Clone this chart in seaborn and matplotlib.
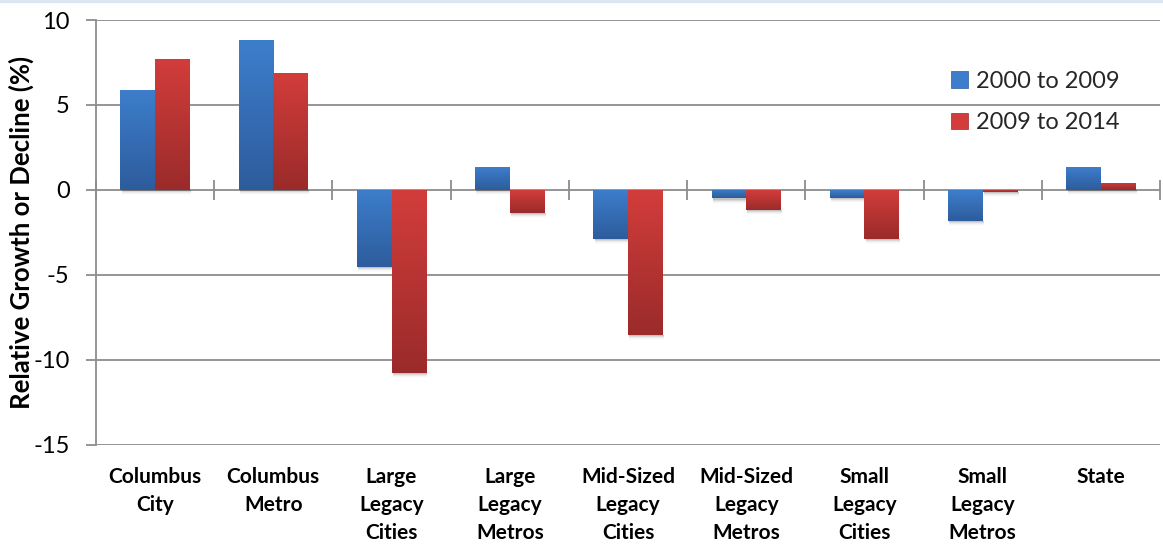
import numpy as np
import pandas as pd
import matplotlib
matplotlib.use("Agg")
import matplotlib.pyplot as plt
import seaborn as sns
from matplotlib.colors import LinearSegmentedColormap
from matplotlib.patches import Rectangle, Patch

# Data
categories = [
    "Columbus\nCity", "Columbus\nMetro", "Large\nLegacy\nCities", "Large\nLegacy\nMetros",
    "Mid-Sized\nLegacy\nCities", "Mid-Sized\nLegacy\nMetros", "Small\nLegacy\nCities",
    "Small\nLegacy\nMetros", "State",
]
periods = ["2000 to 2009", "2009 to 2014"]
growth_2000_2009 = [5.9, 8.8, -4.55, 1.35, -2.9, -0.5, -0.45, -1.8, 1.35]
growth_2009_2014 = [7.7, 6.9, -10.75, -1.33, -8.55, -1.15, -2.9, -0.12, 0.42]
y_ticks = [10, 5, 0, -5, -10, -15]

df = pd.DataFrame({
    "category": categories * 2,
    "period": [periods[0]] * len(categories) + [periods[1]] * len(categories),
    "value": growth_2000_2009 + growth_2009_2014,
})

sns.set_theme(style="white")
plt.rcParams["font.family"] = ["Lato", "DejaVu Sans"]

grid_color = "#8c8c8c"
ramps = {
    periods[0]: ("#3d7ecc", "#2d5c9c"),
    periods[1]: ("#d23d3b", "#9a2b2a"),
}

fig = plt.figure(figsize=(11.63, 5.48), dpi=100)
ax = fig.add_axes([0.0825, 0.188, 0.915, 0.7755])

sns.barplot(data=df, x="category", y="value", hue="period", order=categories,
            hue_order=periods, palette=[ramps[p][0] for p in periods],
            width=0.585, gap=0, dodge=True, legend=False, ax=ax, zorder=3,
            linewidth=0)

ymin, ymax = -15, 10
ax.set_ylim(ymin, ymax)
ax.set_xlim(-0.5, len(categories) - 0.5)

# vertical gradient fill and soft drop shadow for each bar
grad = np.linspace(0, 1, 256).reshape(-1, 1)
for container, period in zip(ax.containers, periods):
    cmap = LinearSegmentedColormap.from_list(period, ramps[period])
    for bar in container:
        x0, w = bar.get_x(), bar.get_width()
        yb, h = bar.get_y(), bar.get_height()
        lo, hi = min(yb, yb + h), max(yb, yb + h)
        for k, a in enumerate([0.10, 0.07, 0.045, 0.025, 0.012]):
            ax.add_patch(Rectangle((x0 + 0.01, lo - 0.06 * (k + 1)), w, 0.06 * (k + 1),
                                   facecolor="black", alpha=a, linewidth=0, zorder=2))
        im = ax.imshow(grad, cmap=cmap, aspect="auto", origin="upper",
                       extent=[x0, x0 + w, lo, hi], zorder=4, interpolation="bilinear")
        im.set_clip_path(bar)

ax.set_ylim(ymin, ymax)
ax.set_xlim(-0.5, len(categories) - 0.5)

# grid and axes styling
ax.set_yticks(y_ticks)
ax.yaxis.grid(True, color=grid_color, linewidth=1.3, zorder=1)
ax.set_axisbelow(True)
for side in ["top", "right", "bottom"]:
    ax.spines[side].set_visible(False)
ax.spines["left"].set_color(grid_color)
ax.spines["left"].set_linewidth(1.3)
ax.tick_params(axis="y", direction="out", length=7, width=1.3, color=grid_color,
               labelsize=17, labelcolor="black", pad=12, left=True)
ax.set_yticklabels([f"{t}" for t in y_ticks])

ax.tick_params(axis="x", length=0, pad=16, labelsize=15, labelcolor="black")
for lbl in ax.get_xticklabels():
    lbl.set_fontweight("bold")
    lbl.set_linespacing(1.5)
ax.set_xlabel("")
ax.set_ylabel("Relative Growth or Decline (%)", fontsize=18.5, fontweight="bold",
              color="black")
ax.yaxis.set_label_coords(-0.058, 0.5)

# category separator ticks along the zero line
zero_frac = (0 - ymin) / (ymax - ymin)
sec = ax.secondary_xaxis(zero_frac)
sec.set_xticks(np.arange(len(categories) + 1) - 0.5)
sec.tick_params(direction="inout", length=14, width=1.3, color=grid_color,
                labelbottom=False, labeltop=False)
sec.spines["bottom"].set_color(grid_color)
sec.spines["bottom"].set_linewidth(1.3)
sec.spines["top"].set_visible(False)
sec.set_zorder(5)

# legend
handles = [Patch(facecolor=ramps[p][0], edgecolor=ramps[p][1], linewidth=0.5) for p in periods]
ax.legend(handles, periods, loc="upper left", bbox_to_anchor=(0.784, 0.93),
          frameon=False, fontsize=17, handlelength=0.7, handleheight=0.7,
          handletextpad=0.35, labelspacing=0.85)

# thin frame accent along the top edge
fig.add_artist(plt.Line2D([0, 1], [0.998, 0.998], transform=fig.transFigure,
                          color="#dce6f2", linewidth=3))

fig.savefig("out.png", dpi=100)
